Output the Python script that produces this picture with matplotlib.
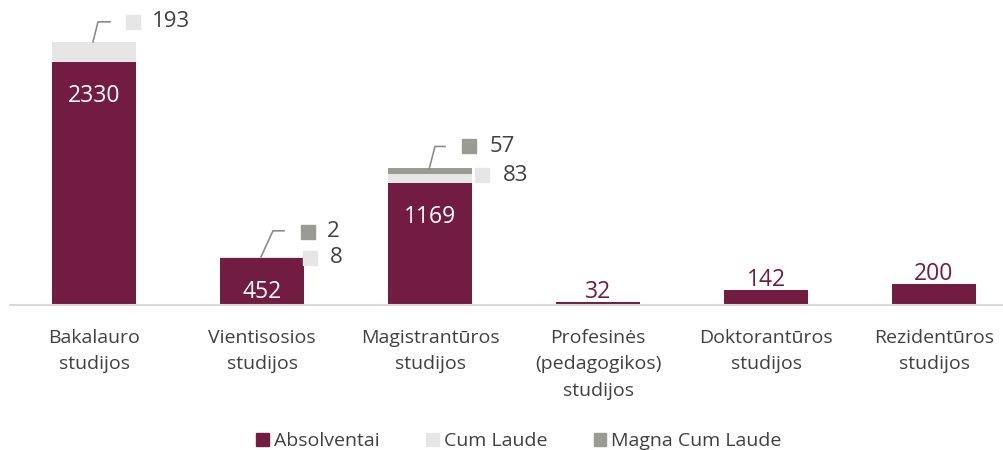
import numpy as np
import matplotlib
matplotlib.use("Agg")
import matplotlib.pyplot as plt
from matplotlib.transforms import IdentityTransform
from matplotlib.patches import Patch

plt.rcParams["font.family"] = ["Open Sans", "DejaVu Sans"]

categories = ["Bakalauro\nstudijos", "Vientisosios\nstudijos", "Magistrantūros\nstudijos",
              "Profesinės\n(pedagogikos)\nstudijos", "Doktorantūros\nstudijos", "Rezidentūros\nstudijos"]
absolventai = [2330, 452, 1169, 32, 142, 200]
cum_laude = [193, 8, 83, 0, 0, 0]
magna_cum_laude = [0, 2, 57, 0, 0, 0]

c_abs = "#721c42"
c_cum = "#e6e6e6"
c_magna = "#9a9b92"
c_text = "#404040"

fig = plt.figure(figsize=(10.04, 4.5), dpi=100)
ax = fig.add_axes([10 / 1004, 1 - 305 / 450, 994.6 / 1004, 305 / 450])

x = np.arange(len(categories))
w = 0.5
abs_arr = np.array(absolventai)
cum_arr = np.array(cum_laude)
mag_arr = np.array(magna_cum_laude)
ax.bar(x, abs_arr, w, color=c_abs, zorder=2)
ax.bar(x, cum_arr, w, bottom=abs_arr, color=c_cum, zorder=2)
ax.bar(x, mag_arr, w, bottom=abs_arr + cum_arr, color=c_magna, zorder=2)

ax.set_xlim(-0.5, 5.42)
ax.set_ylim(0, 2924)
for s in ["top", "right", "left"]:
    ax.spines[s].set_visible(False)
ax.spines["bottom"].set_color("#d9d9d9")
ax.spines["bottom"].set_linewidth(1.5)
ax.set_yticks([])
ax.set_xticks(x)
ax.set_xticklabels(categories, fontsize=14, color=c_text, linespacing=1.62, va="top")
ax.tick_params(axis="x", length=0, pad=17)

# value labels
for i, v in enumerate(absolventai):
    if v > 300:
        ax.annotate(str(v), (i, v), xytext=(0, -34), textcoords="offset pixels",
                    ha="center", va="center", color="white", fontsize=16.5)
    else:
        ax.annotate(str(v), (i, v), xytext=(0, 10), textcoords="offset pixels",
                    ha="center", va="center", color=c_abs, fontsize=16.5)

# callouts: (index, leader pts, [(label, color, sq offset, text offset)])
callouts = [
    (0, [(-1, 0), (4, 20), (16, 20)], [(cum_laude[0], c_cum, (39, 20), (58, 20))]),
    (1, [(-1, 0), (11, 26), (22, 26)], [(magna_cum_laude[1], c_magna, (46, 25), (65, 25)),
                                       (cum_laude[1], c_cum, (48, -1), (68, -1))]),
    (2, [(-1, -1), (5, 22), (15, 22)], [(magna_cum_laude[2], c_magna, (39, 22), (60, 22)),
                                       (cum_laude[2], c_cum, (52, -7), (73, -7))]),
]
fig.canvas.draw()
for i, leader, labels in callouts:
    top = absolventai[i] + cum_laude[i] + magna_cum_laude[i]
    px, py = ax.transData.transform((i, top))
    ax.plot([px + dx for dx, dy in leader], [py + dy for dx, dy in leader],
            color="#8c8c8c", lw=1.2, transform=IdentityTransform(), clip_on=False)
    for val, col, sq, tx in labels:
        ax.plot([px + sq[0]], [py + sq[1]], marker="s", ms=10, color=col, mec=col,
                transform=IdentityTransform(), clip_on=False)
        ax.text(px + tx[0], py + tx[1], str(val), ha="left", va="center",
                fontsize=16, color=c_text, transform=IdentityTransform())

handles = [Patch(color=c_abs, label="Absolventai"),
           Patch(color=c_cum, label="Cum Laude"),
           Patch(color=c_magna, label="Magna Cum Laude")]
fig.legend(handles=handles, loc="lower center", bbox_to_anchor=(0.517, -0.04), ncol=3,
           frameon=False, fontsize=14, handlelength=0.65, handleheight=0.65,
           handletextpad=0.25, columnspacing=2.4, labelcolor=c_text)

fig.savefig("out.png", dpi=100)
